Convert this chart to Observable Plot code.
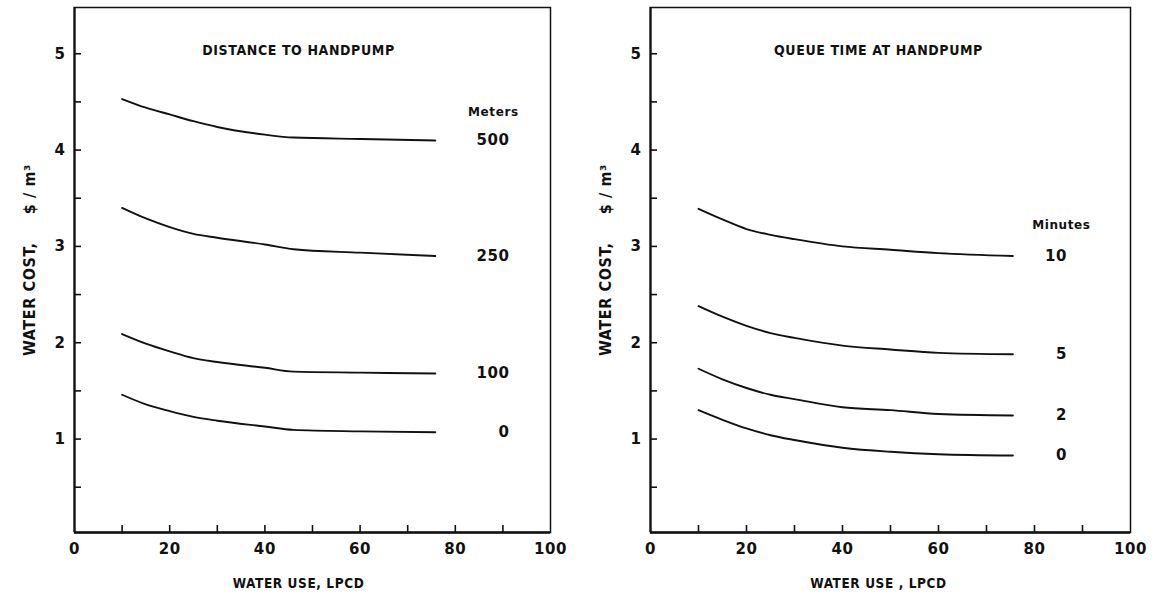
<!DOCTYPE html>
<html>
<head>
<meta charset="utf-8">
<script src="https://cdn.jsdelivr.net/npm/d3@7"></script>
<script src="https://cdn.jsdelivr.net/npm/@observablehq/plot@0.6"></script>
<style>
  html, body { margin: 0; padding: 0; background: #fff; }
  #charts { display: flex; width: 1152px; height: 601px; }
  #charts svg text { letter-spacing: 0.6px; }
  #charts g[aria-label="tick labels"] text,
  #charts g[aria-label="curve labels"] text { letter-spacing: 1px; }
  #charts g[aria-label="cost title"] text { letter-spacing: 1.5px; }
</style>
</head>
<body>
<div id="charts"></div>
<script>
// Water use, litres per capita per day, at which each curve is sampled
const useDistance = [10, 15, 20, 25, 30, 40, 46, 60, 75.8];
const useQueue = [10, 15, 20, 25, 30, 40, 50, 60, 75.5];

// Water cost ($/m3) by distance to the handpump
const distanceNames = ["500", "250", "100", "0"];
const cost500m = [4.53, 4.44, 4.37, 4.30, 4.24, 4.16, 4.13, 4.115, 4.10];
const cost250m = [3.40, 3.29, 3.20, 3.13, 3.09, 3.02, 2.97, 2.935, 2.90];
const cost100m = [2.09, 1.99, 1.91, 1.84, 1.80, 1.74, 1.70, 1.69, 1.68];
const cost0m = [1.46, 1.36, 1.29, 1.23, 1.19, 1.13, 1.095, 1.08, 1.07];

// Water cost ($/m3) by queue time at the handpump
const queueNames = ["10", "5", "2", "0"];
const cost10min = [3.39, 3.28, 3.18, 3.12, 3.075, 3.00, 2.965, 2.93, 2.90];
const cost5min = [2.38, 2.27, 2.175, 2.10, 2.05, 1.97, 1.93, 1.895, 1.88];
const cost2min = [1.73, 1.62, 1.53, 1.46, 1.415, 1.33, 1.30, 1.26, 1.245];
const cost0min = [1.30, 1.20, 1.11, 1.04, 0.99, 0.91, 0.868, 0.843, 0.83];

// Axis ticks
const xTickLabels = [0, 20, 40, 60, 80, 100];
const xTickMarks = [10, 20, 30, 40, 50, 60, 70, 80, 90];
const yTickLabels = [1, 2, 3, 4, 5];
const yTickMarks = [0.5, 1, 1.5, 2, 2.5, 3, 3.5, 4, 4.5, 5];

const CONDENSED = "'DejaVu Sans Condensed', 'DejaVu Sans', sans-serif";
const WIDE = "'DejaVu Sans', sans-serif";
const COST_TITLE = "WATER COST,\u00a0\u00a0\u00a0\u00a0\u00a0$ / m³";

function toRows(xs, names, series) {
  const rows = [];
  names.forEach((name, k) => series[k].forEach((v, i) => rows.push({name, use: xs[i], cost: v})));
  return rows;
}

function panel({title, xs, names, series, header, headerX, headerY, labelX, xTitle, marginRight, titleDx}) {
  const rows = toRows(xs, names, series);
  const ends = names.map((name, k) => ({name, cost: series[k][series[k].length - 1]}));
  return Plot.plot({
    width: 576,
    height: 601,
    marginLeft: 74,
    marginRight,
    marginTop: 7,
    marginBottom: 69,
    style: {fontFamily: CONDENSED, fontWeight: "bold", color: "#111", background: "#fff"},
    x: {domain: [0, 100]},
    y: {domain: [0.03, 5.48]},
    marks: [
      Plot.frame({stroke: "#111", strokeWidth: 1.5}),
      Plot.ruleX([0], {stroke: "#111", strokeWidth: 2.2}),
      Plot.ruleY([0.03], {stroke: "#111", strokeWidth: 2.4}),
      // inward tick marks
      Plot.axisX(xTickMarks, {tickSize: -7, tickFormat: () => "", label: null, strokeWidth: 1.6}),
      Plot.axisY(yTickMarks, {tickSize: -7, tickFormat: () => "", label: null, strokeWidth: 1.6}),
      // tick labels
      Plot.axisX(xTickLabels, {tickSize: 0, tickPadding: 11, label: null, fontSize: 15, fontFamily: WIDE, ariaLabel: "tick labels", tickFormat: d => String(d)}),
      Plot.axisY(yTickLabels, {tickSize: 0, tickPadding: 9, label: null, fontSize: 15, fontFamily: WIDE, ariaLabel: "tick labels", tickFormat: d => String(d)}),
      Plot.line(rows, {x: "use", y: "cost", z: "name", curve: "monotone-x", stroke: "#111", strokeWidth: 1.9}),
      Plot.text(ends, {x: labelX, y: "cost", text: "name", textAnchor: "end", fontSize: 15, fontFamily: WIDE, ariaLabel: "curve labels"}),
      Plot.text([header], {x: headerX, y: headerY, fontSize: 12, fontFamily: WIDE, fontWeight: 900}),
      Plot.text([title], {frameAnchor: "top", lineAnchor: "middle", dy: 43, dx: titleDx, fontSize: 14}),
      Plot.text([xTitle], {frameAnchor: "bottom", lineAnchor: "middle", dy: 51, dx: titleDx, fontSize: 13.5}),
      Plot.text([COST_TITLE], {frameAnchor: "left", textAnchor: "middle", rotate: -90, lineAnchor: "middle", dx: -45, dy: -10, fontSize: 16, ariaLabel: "cost title"})
    ]
  });
}

const charts = document.getElementById("charts");
charts.append(panel({
  title: "DISTANCE TO HANDPUMP",
  xs: useDistance,
  names: distanceNames,
  series: [cost500m, cost250m, cost100m, cost0m],
  header: "Meters",
  headerX: 88,
  headerY: 4.39,
  labelX: 91.4,
  xTitle: "WATER USE, LPCD",
  marginRight: 26,
  titleDx: -14
}));
charts.append(panel({
  title: "QUEUE TIME AT HANDPUMP",
  xs: useQueue,
  names: queueNames,
  series: [cost10min, cost5min, cost2min, cost0min],
  header: "Minutes",
  headerX: 85.6,
  headerY: 3.22,
  labelX: 86.8,
  xTitle: "WATER USE , LPCD",
  marginRight: 22,
  titleDx: -12
}));
</script>
</body>
</html>
